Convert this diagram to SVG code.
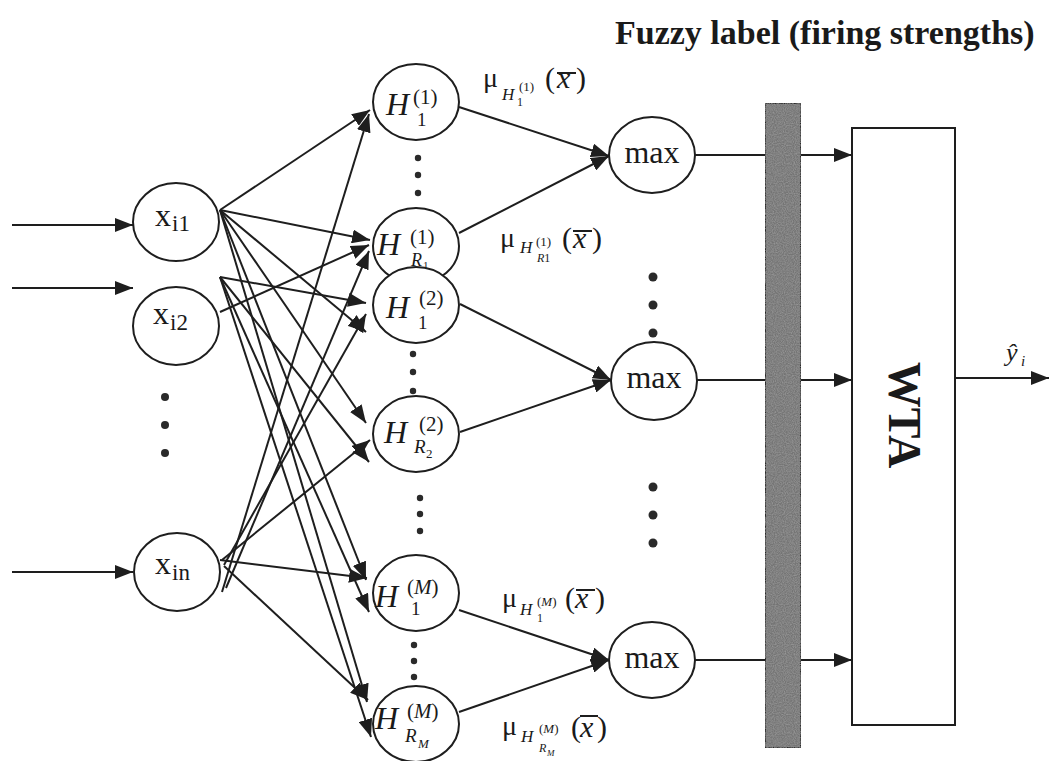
<svg xmlns="http://www.w3.org/2000/svg" width="1050" height="761" viewBox="0 0 1050 761">
  <style>
    .ln { stroke: #1e1e1e; stroke-width: 2; fill: none; }
    .node { fill: #ffffff; stroke: #1e1e1e; stroke-width: 2; }
    .dot { fill: #2a2a2a; }
    .t { fill: #1a1a1a; }
    .it { font-style: italic; }
  </style>
  <defs>
    <marker id="ah" markerUnits="userSpaceOnUse" markerWidth="19" markerHeight="14" refX="18" refY="7" orient="auto">
      <path d="M0,0 L18,7 L0,14 z" fill="#1e1e1e"/>
    </marker>
    <!-- stippled texture for the label bar -->
    <filter id="grain" x="0" y="0" width="1" height="1">
      <feTurbulence type="fractalNoise" baseFrequency="0.9" numOctaves="2" seed="3" result="n"/>
      <feColorMatrix in="n" type="matrix" values="0 0 0 0 0.35  0 0 0 0 0.35  0 0 0 0 0.35  0 0 0 1.2 -0.35" result="g"/>
      <feComposite in="g" in2="SourceGraphic" operator="in" result="gc"/>
      <feMerge><feMergeNode in="SourceGraphic"/><feMergeNode in="gc"/></feMerge>
    </filter>
  </defs>

  <rect width="1050" height="761" fill="#ffffff"/>

  <!-- title -->
  <text class="t" font-family="Liberation Serif" font-weight="bold" x="615" y="44" font-size="34">Fuzzy label (firing strengths)</text>

  <g id="connectors">
    <!-- external inputs -->
    <path class="ln" marker-end="url(#ah)" d="M12,225 L133,225"/>
    <path class="ln" marker-end="url(#ah)" d="M12,288 L133,288"/>
    <path class="ln" marker-end="url(#ah)" d="M12,572 L133,572"/>

    <!-- x_i1 to rule nodes -->
    <path class="ln" marker-end="url(#ah)" d="M220,210 L370,110"/>
    <path class="ln" marker-end="url(#ah)" d="M220,210 L370,240"/>
    <path class="ln" marker-end="url(#ah)" d="M220,210 L366,332"/>
    <path class="ln" marker-end="url(#ah)" d="M220,210 L366,423"/>
    <path class="ln" marker-end="url(#ah)" d="M220,210 L366,580"/>
    <path class="ln" marker-end="url(#ah)" d="M220,210 L367,702"/>

    <!-- x_i2 to rule nodes -->
    <path class="ln" marker-end="url(#ah)" d="M220,312 L369,245"/>
    <path class="ln" marker-end="url(#ah)" d="M220,277 L366,303"/>
    <path class="ln" marker-end="url(#ah)" d="M220,277 L369,462"/>
    <path class="ln" marker-end="url(#ah)" d="M220,277 L369,612"/>
    <path class="ln" marker-end="url(#ah)" d="M220,277 L371,737"/>

    <!-- x_in to rule nodes -->
    <path class="ln" marker-end="url(#ah)" d="M222,592 L369,114"/>
    <path class="ln" marker-end="url(#ah)" d="M226,588 L369,251"/>
    <path class="ln" marker-end="url(#ah)" d="M224,565 L366,314"/>
    <path class="ln" marker-end="url(#ah)" d="M222,560 L370,440"/>
    <path class="ln" marker-end="url(#ah)" d="M220,560 L367,578"/>
    <path class="ln" marker-end="url(#ah)" d="M224,566 L368,700"/>

    <!-- rule nodes to max nodes -->
    <path class="ln" marker-end="url(#ah)" d="M459,107 L609,156"/>
    <path class="ln" marker-end="url(#ah)" d="M459,233 L609,156"/>
    <path class="ln" marker-end="url(#ah)" d="M460,304 L611,380"/>
    <path class="ln" marker-end="url(#ah)" d="M460,432 L611,380"/>
    <path class="ln" marker-end="url(#ah)" d="M459,610 L609,660"/>
    <path class="ln" marker-end="url(#ah)" d="M459,712 L609,660"/>

    <!-- max nodes through the label bar to WTA -->
    <path class="ln" marker-end="url(#ah)" d="M695,155 L852,155"/>
    <path class="ln" marker-end="url(#ah)" d="M697,380 L852,380"/>
    <path class="ln" marker-end="url(#ah)" d="M695,660 L852,660"/>

    <!-- WTA output -->
    <path class="ln" marker-end="url(#ah)" d="M955,378 L1049,378"/>
  </g>

  <!-- input layer -->
  <g id="x_i1">
    <ellipse class="node" cx="176" cy="222" rx="43" ry="39"/>
    <text class="t" font-family="Liberation Serif" x="155" y="226" font-size="32">x</text>
    <text class="t" font-family="Liberation Serif" x="172" y="231" font-size="23">i1</text>
  </g>
  <g id="x_i2">
    <ellipse class="node" cx="176" cy="326" rx="43" ry="39"/>
    <text class="t" font-family="Liberation Serif" x="153" y="324" font-size="32">x</text>
    <text class="t" font-family="Liberation Serif" x="170" y="330" font-size="23">i2</text>
  </g>
  <g id="input_dots">
    <circle class="dot" cx="165" cy="397" r="4"/>
    <circle class="dot" cx="165" cy="425" r="4"/>
    <circle class="dot" cx="165" cy="453" r="4"/>
  </g>
  <g id="x_in">
    <ellipse class="node" cx="177" cy="572" rx="43" ry="39"/>
    <text class="t" font-family="Liberation Serif" x="155" y="574" font-size="32">x</text>
    <text class="t" font-family="Liberation Serif" x="172" y="580" font-size="23">in</text>
  </g>

  <!-- rule layer -->
  <g id="H1_1">
    <ellipse class="node" cx="416" cy="102" rx="43" ry="38"/>
    <text class="t it" font-family="Liberation Serif" x="386" y="115" font-size="32">H</text>
    <text class="t" font-family="Liberation Serif" x="413" y="104" font-size="21">(1)</text>
    <text class="t" font-family="Liberation Serif" x="417" y="126" font-size="19">1</text>
  </g>
  <g id="rule_dots_1">
    <circle class="dot" cx="418" cy="158" r="3.2"/>
    <circle class="dot" cx="418" cy="175" r="3.2"/>
    <circle class="dot" cx="418" cy="193" r="3.2"/>
  </g>
  <g id="HR1_1">
    <ellipse class="node" cx="416" cy="246" rx="43" ry="38"/>
    <text class="t it" font-family="Liberation Serif" x="377" y="255" font-size="32">H</text>
    <text class="t" font-family="Liberation Serif" x="410" y="244" font-size="21">(1)</text>
    <text class="t it" font-family="Liberation Serif" x="411" y="266" font-size="18">R</text>
    <text class="t" font-family="Liberation Serif" x="423" y="269" font-size="11">1</text>
  </g>
  <g id="H1_2">
    <ellipse class="node" cx="416" cy="305" rx="43" ry="38"/>
    <text class="t it" font-family="Liberation Serif" x="386" y="318" font-size="32">H</text>
    <text class="t" font-family="Liberation Serif" x="419" y="305" font-size="21">(2)</text>
    <text class="t" font-family="Liberation Serif" x="418" y="329" font-size="19">1</text>
  </g>
  <g id="rule_dots_2">
    <circle class="dot" cx="413" cy="354" r="3.2"/>
    <circle class="dot" cx="413" cy="372" r="3.2"/>
    <circle class="dot" cx="413" cy="391" r="3.2"/>
  </g>
  <g id="HR2_2">
    <ellipse class="node" cx="416" cy="434" rx="43" ry="38"/>
    <text class="t it" font-family="Liberation Serif" x="384" y="443" font-size="32">H</text>
    <text class="t" font-family="Liberation Serif" x="419" y="431" font-size="21">(2)</text>
    <text class="t it" font-family="Liberation Serif" x="414" y="453" font-size="19">R</text>
    <text class="t" font-family="Liberation Serif" x="426" y="458" font-size="13">2</text>
  </g>
  <g id="rule_dots_3">
    <circle class="dot" cx="420" cy="498" r="3.2"/>
    <circle class="dot" cx="420" cy="514" r="3.2"/>
    <circle class="dot" cx="420" cy="531" r="3.2"/>
  </g>
  <g id="H1_M">
    <ellipse class="node" cx="416" cy="593" rx="43" ry="38"/>
    <text class="t it" font-family="Liberation Serif" x="375" y="607" font-size="32">H</text>
    <text class="t" font-family="Liberation Serif" x="407" y="594" font-size="21">(<tspan font-style="italic">M</tspan>)</text>
    <text class="t" font-family="Liberation Serif" x="411" y="615" font-size="19">1</text>
  </g>
  <g id="rule_dots_4">
    <circle class="dot" cx="414" cy="645" r="3.2"/>
    <circle class="dot" cx="414" cy="661" r="3.2"/>
    <circle class="dot" cx="414" cy="677" r="3.2"/>
  </g>
  <g id="HRM_M">
    <ellipse class="node" cx="416" cy="724" rx="43" ry="38"/>
    <text class="t it" font-family="Liberation Serif" x="375" y="729" font-size="32">H</text>
    <text class="t" font-family="Liberation Serif" x="407" y="718" font-size="21">(<tspan font-style="italic">M</tspan>)</text>
    <text class="t it" font-family="Liberation Serif" x="405" y="742" font-size="19">R</text>
    <text class="t it" font-family="Liberation Serif" x="418" y="748" font-size="13">M</text>
  </g>

  <!-- membership labels -->
  <g id="mu_H1_1">
    <text class="t" font-family="Liberation Serif" x="483" y="87" font-size="28">μ</text>
    <text class="t it" font-family="Liberation Serif" x="502" y="100" font-size="17">H</text>
    <text class="t" font-family="Liberation Serif" x="519" y="91" font-size="13">(1)</text>
    <text class="t" font-family="Liberation Serif" x="517" y="106" font-size="12">1</text>
    <text class="t" font-family="Liberation Serif" x="545" y="88" font-size="30">(</text>
    <text class="t it" font-family="Liberation Serif" x="557" y="88" font-size="30">x</text>
    <text class="t" font-family="Liberation Serif" x="576" y="88" font-size="30">)</text>
    <path class="ln" d="M557,73 L576,73" stroke-width="1.6"/>
  </g>
  <g id="mu_HR1_1">
    <text class="t" font-family="Liberation Serif" x="500" y="247" font-size="28">μ</text>
    <text class="t it" font-family="Liberation Serif" x="520" y="253" font-size="17">H</text>
    <text class="t" font-family="Liberation Serif" x="536" y="246" font-size="13">(1)</text>
    <text class="t it" font-family="Liberation Serif" x="537" y="262" font-size="12">R<tspan font-style="normal">1</tspan></text>
    <text class="t" font-family="Liberation Serif" x="562" y="248" font-size="30">(</text>
    <text class="t it" font-family="Liberation Serif" x="573" y="248" font-size="30">x</text>
    <text class="t" font-family="Liberation Serif" x="592" y="248" font-size="30">)</text>
    <path class="ln" d="M573,231 L592,231" stroke-width="1.6"/>
  </g>
  <g id="mu_H1_M">
    <text class="t" font-family="Liberation Serif" x="502" y="607" font-size="28">μ</text>
    <text class="t it" font-family="Liberation Serif" x="520" y="615" font-size="17">H</text>
    <text class="t" font-family="Liberation Serif" x="537" y="606" font-size="13">(<tspan font-style="italic">M</tspan>)</text>
    <text class="t" font-family="Liberation Serif" x="537" y="622" font-size="12">1</text>
    <text class="t" font-family="Liberation Serif" x="565" y="608" font-size="30">(</text>
    <text class="t it" font-family="Liberation Serif" x="575" y="608" font-size="30">x</text>
    <text class="t" font-family="Liberation Serif" x="595" y="608" font-size="30">)</text>
    <path class="ln" d="M576,590 L595,590" stroke-width="1.6"/>
  </g>
  <g id="mu_HRM_M">
    <text class="t" font-family="Liberation Serif" x="502" y="735" font-size="28">μ</text>
    <text class="t it" font-family="Liberation Serif" x="521" y="742" font-size="17">H</text>
    <text class="t" font-family="Liberation Serif" x="539" y="733" font-size="13">(<tspan font-style="italic">M</tspan>)</text>
    <text class="t it" font-family="Liberation Serif" x="539" y="752" font-size="12">R</text>
    <text class="t it" font-family="Liberation Serif" x="547" y="756" font-size="9">M</text>
    <text class="t" font-family="Liberation Serif" x="571" y="737" font-size="30">(</text>
    <text class="t it" font-family="Liberation Serif" x="580" y="737" font-size="30">x</text>
    <text class="t" font-family="Liberation Serif" x="597" y="737" font-size="30">)</text>
    <path class="ln" d="M580,716 L598,716" stroke-width="1.6"/>
  </g>

  <!-- max layer -->
  <g id="max_1">
    <ellipse class="node" cx="652" cy="155" rx="43" ry="38"/>
    <text class="t" font-family="Liberation Serif" x="652" y="163" font-size="32" text-anchor="middle">max</text>
  </g>
  <g id="max_dots_1">
    <circle class="dot" cx="653" cy="277" r="4.5"/>
    <circle class="dot" cx="653" cy="305" r="4.5"/>
    <circle class="dot" cx="653" cy="333" r="4.5"/>
  </g>
  <g id="max_2">
    <ellipse class="node" cx="654" cy="381" rx="43" ry="39"/>
    <text class="t" font-family="Liberation Serif" x="654" y="388" font-size="32" text-anchor="middle">max</text>
  </g>
  <g id="max_dots_2">
    <circle class="dot" cx="653" cy="487" r="4.5"/>
    <circle class="dot" cx="653" cy="515" r="4.5"/>
    <circle class="dot" cx="653" cy="543" r="4.5"/>
  </g>
  <g id="max_M">
    <ellipse class="node" cx="652" cy="660" rx="43" ry="38"/>
    <text class="t" font-family="Liberation Serif" x="652" y="668" font-size="32" text-anchor="middle">max</text>
  </g>

  <!-- fuzzy label bar -->
  <g id="label_bar">
    <rect x="765" y="103" width="36" height="645" fill="#757575" stroke="#2a2a2a" stroke-width="2" filter="url(#grain)"/>
  </g>

  <!-- winner-take-all -->
  <g id="WTA">
    <rect class="node" x="852" y="128" width="103" height="597"/>
    <text class="t" font-family="Liberation Serif" font-weight="bold" font-size="46" text-anchor="middle" transform="translate(889,415) rotate(90)">WTA</text>
  </g>

  <g id="output_label">
    <text class="t it" font-family="Liberation Serif" x="1006" y="361" font-size="26">ŷ</text>
    <text class="t it" font-family="Liberation Serif" x="1021" y="366" font-size="15">i</text>
  </g>
</svg>
